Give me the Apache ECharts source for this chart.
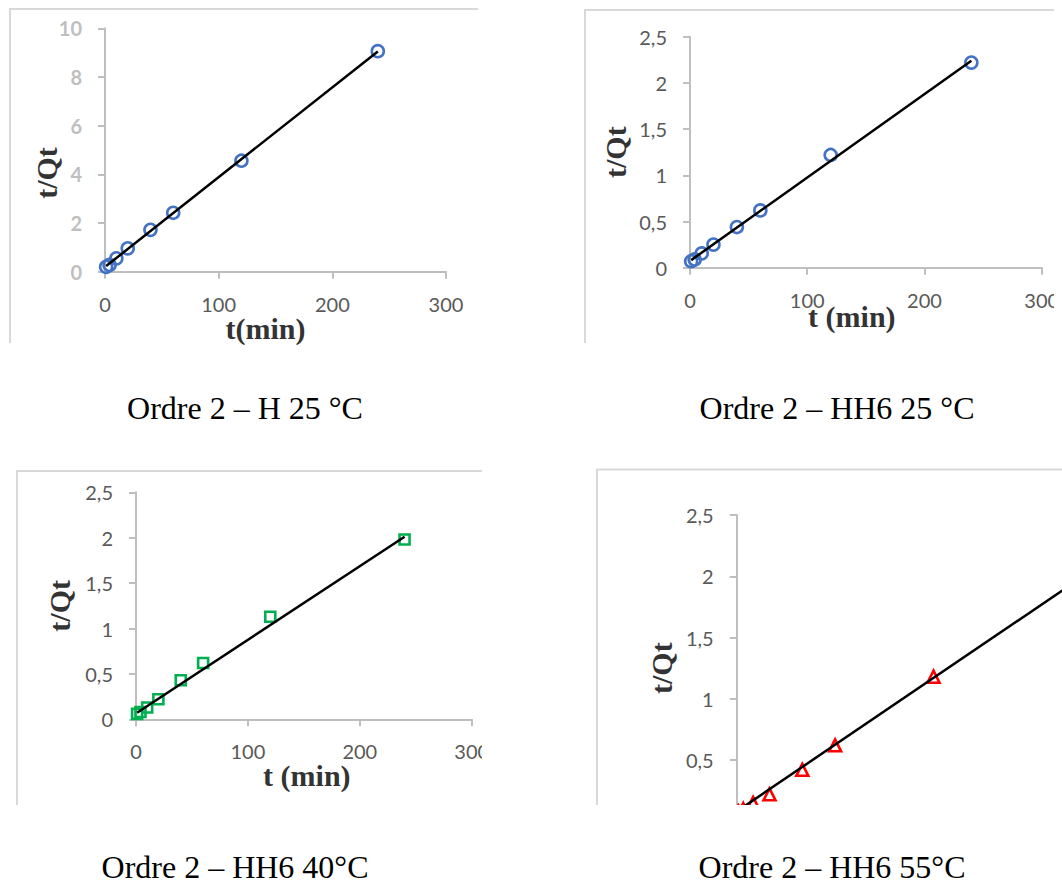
<!DOCTYPE html>
<html>
<head>
<meta charset="utf-8">
<script src="https://cdn.jsdelivr.net/npm/echarts@6/dist/echarts.min.js"></script>
<style>
  html, body { margin: 0; padding: 0; background: #ffffff; }
  #chart { width: 1062px; height: 885px; }
</style>
</head>
<body>
<div id="chart"></div>
<script>
// Contact times (min)
const times = [1, 4, 10, 20, 40, 60, 120, 240];

// t/Qt for each sample / temperature
const tqH25 = [0.20, 0.28, 0.55, 0.96, 1.72, 2.42, 4.56, 9.06];
const tqHH6_25 = [0.07, 0.09, 0.155, 0.25, 0.44, 0.62, 1.22, 2.22];
const tqHH6_40 = [0.06, 0.08, 0.13, 0.22, 0.43, 0.62, 1.13, 1.98];
const tqHH6_55 = [0.08, 0.10, 0.15, 0.22, 0.42, 0.62, 1.18, 2.26];

// Linear trend lines (pseudo-second-order fits), start and end points
const fitH25 = [[1, 0.23], [240, 9.05]];
const fitHH6_25 = [[1, 0.082], [240, 2.24]];
const fitHH6_40 = [[1, 0.072], [240, 2.01]];
const fitHH6_55 = [[1, 0.089], [240, 2.26]];

// Axis scales: [min, max, interval]
const xScale = [0, 300, 100];
const yScaleH25 = [0, 10, 2];
const yScaleHH6 = [0, 2.5, 0.5];

const captions = [
  'Ordre 2 – H 25 °C',
  'Ordre 2 – HH6 25 °C',
  'Ordre 2 – HH6 40°C',
  'Ordre 2 – HH6 55°C'
];
const xNames = ['t(min)', 't (min)', 't (min)', ''];
const yName = 't/Qt';

const AXIS_GREY = '#bfbfbf';
const LABEL_GREY = '#595959';
const TITLE_COLOR = '#333333';
const FRAME_GREY = '#d9d9d9';

const pts = (xs, ys) => xs.map((t, i) => [t, ys[i]]);
const commaFmt = v => String(v).replace('.', ',');

const panels = [
  { grid: { left: 105, top: 28.3, width: 341, height: 243.4 },
    y: yScaleH25, data: tqH25, fit: fitH25, symbol: 'circle', symbolSize: 12, color: '#4472c4',
    yLabelBold: true, xGap: 42, xPad: [0, 20, 0, 0], yGap: 44, yPad: [0, 46, 0, 0],
    frame: { l: 10, t: 9, r: 478, b: 343 }, caption: { x: 245, y: 408 } },
  { grid: { left: 690, top: 36.7, width: 351.7, height: 231 },
    y: yScaleHH6, data: tqHH6_25, fit: fitHH6_25, symbol: 'circle', symbolSize: 12, color: '#4472c4',
    yLabelBold: false, xGap: 34, xPad: [0, 28, 0, 0], yGap: 60, yPad: 0,
    frame: { l: 585, t: 10, r: 1054, b: 343 }, caption: { x: 837, y: 408 } },
  { grid: { left: 136, top: 492.3, width: 335.7, height: 227 },
    y: yScaleHH6, data: tqHH6_40, fit: fitHH6_40, symbol: 'rect', symbolSize: 10, color: '#00b050',
    yLabelBold: false, xGap: 41, xPad: [0, 0, 0, 6], yGap: 62, yPad: 0,
    frame: { l: 17, t: 471, r: 482, b: 805 }, caption: { x: 235, y: 867 } },
  { grid: { left: 736.7, top: 515, width: 492, height: 306.25 },
    y: yScaleHH6, data: tqHH6_55, fit: fitHH6_55, symbol: 'triangle', symbolSize: 12, color: '#ff0000',
    yLabelBold: false, xGap: 42, xPad: 0, yGap: 60, yPad: 0, hideX: true,
    frame: { l: 597, t: 469.5, r: 1062, b: 805 }, caption: { x: 832, y: 867 } }
];

const grids = [], xAxes = [], yAxes = [], series = [], graphics = [];

panels.forEach((p, i) => {
  grids.push(Object.assign({ outerBoundsMode: 'none', containLabel: false, show: false }, p.grid));

  xAxes.push({
    gridIndex: i, type: 'value',
    min: xScale[0], max: xScale[1], interval: xScale[2],
    name: xNames[i], nameLocation: 'middle', nameGap: p.xGap, nameMoveOverlap: false,
    nameTextStyle: { fontFamily: 'Liberation Serif', fontWeight: 'bold', fontSize: 30,
                     color: TITLE_COLOR, padding: p.xPad },
    axisLine: { show: true, onZero: false, lineStyle: { color: AXIS_GREY, width: 2 } },
    axisTick: { show: true, length: 7, inside: false, lineStyle: { color: AXIS_GREY, width: 2 } },
    axisLabel: { show: !p.hideX, margin: 22, fontFamily: 'Lato', fontSize: 20, color: LABEL_GREY },
    splitLine: { show: false }
  });

  yAxes.push({
    gridIndex: i, type: 'value',
    min: p.y[0], max: p.y[1], interval: p.y[2],
    name: yName, nameLocation: 'middle', nameGap: p.yGap, nameRotate: 90, nameMoveOverlap: false,
    nameTextStyle: { fontFamily: 'Liberation Serif', fontWeight: 'bold', fontSize: 30,
                     color: TITLE_COLOR, padding: p.yPad },
    axisLine: { show: true, onZero: false, lineStyle: { color: AXIS_GREY, width: 2 } },
    axisTick: { show: true, length: 7, inside: false, lineStyle: { color: AXIS_GREY, width: 2 } },
    axisLabel: { margin: 23, fontFamily: 'Lato', fontSize: 20,
                 fontWeight: p.yLabelBold ? 'bold' : 'normal',
                 color: p.yLabelBold ? AXIS_GREY : LABEL_GREY, formatter: commaFmt },
    splitLine: { show: false }
  });

  series.push({
    type: 'scatter', xAxisIndex: i, yAxisIndex: i,
    data: pts(times, p.data),
    symbol: p.symbol, symbolSize: p.symbolSize,
    itemStyle: { color: 'rgba(0,0,0,0)', borderColor: p.color, borderWidth: 2.6, opacity: 1 },
    emphasis: { disabled: true }, z: 2
  });

  series.push({
    type: 'line', xAxisIndex: i, yAxisIndex: i,
    data: p.fit, symbol: 'none', silent: true,
    lineStyle: { color: '#000000', width: 2.5 }, z: 3
  });

  const f = p.frame;
  graphics.push({
    type: 'polyline', z: 1, silent: true,
    shape: { points: [[f.r, f.t], [f.l, f.t], [f.l, f.b]] },
    style: { stroke: FRAME_GREY, lineWidth: 2, fill: null }
  });
});

// White page areas outside the visible part of each chart
graphics.push(
  { type: 'rect', z: 50, silent: true, shape: { x: 1054, y: 0, width: 8, height: 350 }, style: { fill: '#ffffff' } },
  { type: 'rect', z: 50, silent: true, shape: { x: 482, y: 455, width: 100, height: 360 }, style: { fill: '#ffffff' } },
  { type: 'rect', z: 50, silent: true, shape: { x: 585, y: 805, width: 477, height: 80 }, style: { fill: '#ffffff' } }
);

panels.forEach((p, i) => {
  graphics.push({
    type: 'text', z: 60, silent: true,
    x: p.caption.x, y: p.caption.y,
    style: { text: captions[i], fill: '#000000', fontFamily: 'Liberation Serif', fontSize: 32,
             lineHeight: 30, align: 'center', verticalAlign: 'middle' }
  });
});

const chart = echarts.init(document.getElementById('chart'), null, { renderer: 'svg' });
chart.setOption({
  animation: false,
  backgroundColor: '#ffffff',
  grid: grids,
  xAxis: xAxes,
  yAxis: yAxes,
  series: series,
  graphic: { elements: graphics }
});
</script>
</body>
</html>
